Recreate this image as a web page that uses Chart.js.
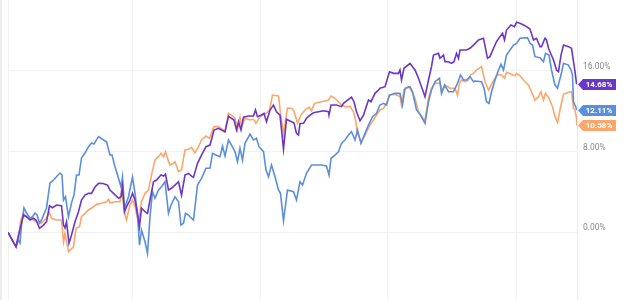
<!DOCTYPE html>
<html>
<head>
<meta charset="utf-8">
<script src="https://cdn.jsdelivr.net/npm/chart.js@4.4.1/dist/chart.umd.min.js"></script>
<style>
    html, body { margin: 0; padding: 0; background: #fff; }
    #wrap {
        width: 640px; height: 300px; position: relative;
        background: linear-gradient(to right, #ececec 0, #ececec 2px, #fff 2px);
    }
</style>
</head>
<body>
<div id="wrap"><canvas id="chart"></canvas></div>
<script>
// Trading-day index (0 = start) and total return in %
const purpleDays = [0, 16, 21, 31, 37, 44, 51, 56, 63, 71, 77, 83, 89, 97, 107, 111, 114, 117, 122, 127, 134, 141, 147, 154, 161, 167, 174, 181, 190, 199, 204, 211, 221, 226, 229, 233, 237, 244, 249, 254, 259, 263, 267, 274, 279, 284, 291, 297, 306, 311, 315, 321, 327, 334, 341, 347, 354, 361, 367, 371, 379, 387, 396, 404, 412, 421, 427, 434, 441, 447, 452, 457, 461, 466, 471, 481, 491, 495, 499, 507, 512, 517, 524, 531, 537, 544, 551, 557, 567, 572, 577, 581, 584, 591, 597, 604, 611, 621, 631, 641, 642, 646, 657, 667, 671, 681, 687, 692, 697, 704, 711, 717, 721, 726, 734, 741, 744, 754, 763, 771, 781, 784, 787, 792, 804, 809, 814, 821, 827, 834, 841, 847, 851, 861, 864, 871, 874, 881, 887, 892, 897, 901, 904, 917, 924, 931, 941, 951, 959, 964, 971, 977, 984, 989, 993, 997, 1006, 1013, 1017, 1024, 1034, 1044, 1051, 1057, 1064, 1067, 1074, 1077, 1081, 1091, 1097, 1101, 1106, 1111, 1121, 1127, 1134, 1137, 1138];
const purpleValues = [0, -1.43, -0.27, 1.71, 1.54, 1.22, 1.39, 1.22, 0.4, 0.72, 1.05, 2.63, 2.44, 2.7, 2.63, 0.72, 0.43, 1.05, -1.09, -0.27, 1.05, 2.04, 3.2, 3.69, 3.86, 3.86, 4.48, 4.85, 4.83, 4.68, 4.19, 3.86, 3.37, 3.52, 4.51, 2.04, 2.53, 3.2, 3.86, 3.2, 1.88, 0.55, 2.38, 2.04, 1.88, 3.2, 5.01, 5.18, 5.67, 5.57, 5.77, 4.19, 4.36, 4.68, 5.01, 3.69, 5.67, 5.84, 5.57, 5.45, 6.83, 7.65, 8.48, 8.64, 10.13, 10.3, 10.13, 9.96, 11.51, 11.29, 11.12, 10.13, 10.95, 10.13, 11.39, 11.51, 11.51, 12.11, 11.45, 11.61, 11.78, 10.95, 12.11, 12.6, 11.94, 11.61, 8.22, 11.19, 10.95, 10.82, 9.8, 9.63, 10.77, 10.79, 11.29, 11.61, 11.84, 11.94, 12.04, 11.94, 11.61, 12.6, 12.6, 12.44, 12.77, 13.17, 13.37, 12.93, 11.94, 11.05, 11.61, 12.5, 13.1, 12.93, 13.76, 14.09, 14.26, 14.42, 15.9, 15.74, 15.74, 16.07, 15.08, 16.24, 16.73, 16.4, 16.07, 15.25, 14.42, 13.43, 15.08, 16.4, 17.55, 17.72, 17.23, 17.55, 16.89, 16.89, 16.73, 16.89, 17.72, 17.23, 18.05, 18.05, 18.22, 18.54, 19.04, 19.21, 17.23, 17.39, 18.22, 18.87, 19.37, 19.7, 19.04, 20.03, 20.52, 20.36, 20.79, 20.69, 20.46, 20.13, 19.04, 19.21, 18.38, 18.38, 19.21, 19.04, 18.22, 17.06, 16.07, 15.9, 17.55, 18.54, 18.38, 18.22, 15.9, 14.75, 14.68];

const blueDays = [0, 16, 20, 24, 27, 32, 37, 44, 49, 54, 58, 63, 67, 77, 84, 91, 97, 104, 108, 111, 115, 121, 127, 132, 137, 142, 147, 154, 161, 167, 172, 181, 188, 197, 204, 208, 214, 221, 226, 229, 233, 241, 249, 254, 259, 263, 267, 274, 279, 284, 289, 294, 301, 307, 314, 321, 326, 334, 341, 346, 351, 355, 361, 364, 371, 379, 387, 396, 404, 409, 416, 424, 429, 434, 441, 447, 454, 459, 464, 469, 474, 484, 491, 497, 502, 511, 516, 521, 527, 534, 541, 545, 551, 559, 571, 577, 584, 589, 597, 607, 627, 637, 642, 646, 654, 661, 667, 674, 681, 687, 694, 699, 706, 714, 721, 729, 737, 744, 751, 757, 763, 774, 784, 789, 794, 804, 809, 817, 825, 834, 841, 847, 854, 863, 867, 873, 881, 891, 899, 905, 911, 917, 924, 931, 934, 947, 952, 957, 962, 967, 974, 981, 986, 991, 997, 1004, 1011, 1017, 1024, 1039, 1044, 1049, 1054, 1064, 1071, 1075, 1082, 1087, 1094, 1099, 1106, 1111, 1121, 1126, 1129, 1131, 1138];
const blueValues = [0, -1.43, -0.76, -1.06, 0.72, 2.41, 1.91, 1.42, 1.54, 1.91, 1.72, 0.92, 1.22, 2.41, 4.88, 5.18, 5.5, 5.87, 5.67, 3.19, 3.52, 1.54, 2.9, 3.69, 5.67, 5.67, 7.36, 7.85, 8.48, 8.84, 8.74, 9.47, 9.24, 8.97, 7.65, 7.65, 6.5, 5.35, 4.51, 5.5, 2.38, 3.52, 5.45, 3.89, 1.71, -1.26, 0.23, -0.93, -2.08, 1.54, 4.02, 3.37, 4.19, 4.51, 5.01, 1.88, 2.7, 3.52, 3.03, 0.72, 0.89, 1.88, 1.71, 1.54, 1.22, 4.68, 5.35, 6.34, 6.34, 7.82, 7.65, 7.49, 8.54, 7.55, 9.14, 8.64, 7.98, 6.99, 8.32, 7.16, 8.81, 9.73, 9.14, 9.31, 8.48, 7.98, 6.17, 5.5, 6.66, 5.5, 4.19, 3.86, 1.15, 4.19, 4.02, 3.2, 5.01, 4.68, 5.84, 6.66, 6.66, 6.56, 5.67, 7.33, 7.65, 7.98, 8.81, 9.14, 9.63, 9.96, 9.14, 10.13, 8.81, 9.8, 10.62, 11.45, 11.78, 12.6, 12.77, 12.6, 13.59, 13.76, 13.76, 12.6, 14.26, 14.42, 13.92, 12.11, 11.61, 10.79, 12.93, 14.09, 14.91, 15.25, 13.76, 14.58, 13.92, 13.92, 14.75, 15.57, 15.08, 15.08, 15.41, 14.91, 14.98, 14.91, 14.28, 12.93, 12.77, 13.92, 15.08, 16.07, 16.63, 16.07, 17.55, 18.05, 18.54, 18.71, 19.21, 19.27, 18.71, 18.54, 17.39, 17.29, 16.89, 17.72, 17.55, 16.07, 14.58, 14.26, 15.57, 16.73, 16.56, 16.07, 15.57, 12.93, 12.11];

const orangeDays = [0, 16, 21, 25, 31, 37, 44, 51, 57, 67, 77, 83, 87, 97, 107, 111, 114, 121, 131, 136, 143, 147, 154, 161, 171, 177, 187, 197, 201, 204, 214, 224, 227, 234, 237, 244, 249, 254, 259, 262, 267, 274, 281, 287, 294, 301, 306, 311, 315, 319, 324, 331, 334, 341, 347, 354, 361, 367, 374, 381, 387, 396, 403, 412, 421, 429, 434, 441, 447, 454, 459, 464, 467, 474, 484, 491, 496, 504, 516, 523, 529, 541, 545, 551, 559, 567, 571, 579, 586, 594, 602, 607, 613, 627, 641, 646, 654, 661, 667, 674, 684, 691, 695, 699, 706, 713, 719, 724, 731, 737, 744, 751, 757, 763, 774, 784, 787, 792, 801, 807, 814, 821, 827, 834, 841, 847, 854, 864, 869, 874, 884, 894, 899, 903, 907, 914, 921, 925, 931, 937, 944, 947, 954, 961, 966, 974, 979, 987, 993, 997, 1007, 1014, 1017, 1024, 1034, 1041, 1047, 1054, 1061, 1066, 1071, 1075, 1082, 1089, 1094, 1099, 1106, 1111, 1121, 1127, 1131, 1134, 1137, 1138];
const orangeValues = [0, -1.43, -0.76, 1.05, 1.88, 1.54, 1.39, 1.22, 1.05, 0.89, 1.39, 1.98, 1.39, 1.22, 1.22, -0.93, -0.1, -1.92, -1.43, 0.4, 0.55, 1.54, 1.88, 2.21, 2.53, 2.77, 2.87, 3.03, 3.27, 2.93, 3.03, 3.03, 4.19, 1.71, 1.22, 2.7, 3.2, 2.53, 1.39, 1.22, 3.03, 3.86, 4.19, 5.67, 7.16, 7.49, 7.82, 7.49, 7.98, 7.32, 6.66, 6.83, 6.99, 6.0, 6.16, 8.15, 8.22, 8.42, 7.88, 8.48, 9.14, 9.53, 9.31, 10.46, 10.46, 10.2, 9.96, 11.78, 11.61, 11.29, 10.13, 11.39, 10.46, 11.29, 11.12, 11.19, 10.79, 11.45, 11.78, 12.11, 13.59, 13.5, 11.78, 9.73, 12.31, 12.28, 12.11, 10.82, 11.61, 12.11, 12.4, 12.04, 12.77, 12.93, 13.1, 13.5, 13.27, 12.93, 12.6, 12.44, 12.44, 11.94, 11.12, 9.8, 8.97, 9.47, 10.13, 10.62, 11.12, 11.61, 12.11, 12.28, 12.77, 13.59, 13.66, 13.43, 12.6, 14.09, 14.42, 13.99, 13.27, 11.94, 11.45, 11.12, 13.27, 14.26, 14.75, 14.75, 13.92, 14.58, 14.26, 14.26, 13.59, 14.75, 15.08, 14.91, 15.08, 15.57, 15.74, 16.07, 16.3, 16.4, 14.91, 14.09, 14.58, 15.25, 15.64, 15.57, 15.25, 15.84, 15.64, 15.5, 15.74, 15.5, 14.91, 14.58, 13.92, 13.1, 13.43, 13.92, 13.1, 13.76, 13.27, 12.44, 11.45, 10.89, 12.6, 13.66, 13.86, 13.92, 12.28, 12.11, 11.29, 10.58];

// vertical grid lines (start of each year)
const yearStartDays = [0, 249, 504, 759, 1017];
const yTickValues = [0, 8, 16];

const purple = '#6a38c8';
const blue = '#5b8fdb';
const orange = '#fca66b';
const gridColor = '#f1f1f1';

function toPoints(days, values) {
    return days.map((d, i) => ({ x: d, y: values[i] }));
}

// Last-value badges on the right axis
const badgePlugin = {
    id: 'badges',
    afterDatasetsDraw(chart) {
        const ctx = chart.ctx;
        const right = chart.chartArea.right;
        ctx.save();
        chart.data.datasets.forEach((ds, i) => {
            const meta = chart.getDatasetMeta(i);
            const last = meta.data[meta.data.length - 1];
            const val = ds.data[ds.data.length - 1].y;
            const y = Math.round(last.y) + 0.5;
            const h = 11;
            ctx.fillStyle = ds.borderColor;
            ctx.beginPath();
            ctx.moveTo(right + 1, y);
            ctx.lineTo(right + 6, y - h / 2);
            ctx.lineTo(right + 39, y - h / 2);
            ctx.lineTo(right + 39, y + h / 2);
            ctx.lineTo(right + 6, y + h / 2);
            ctx.closePath();
            ctx.fill();
            ctx.fillStyle = '#fff';
            ctx.font = 'bold 8px Roboto';
            ctx.textAlign = 'center';
            ctx.textBaseline = 'middle';
            ctx.fillText(val.toFixed(2) + '%', right + 22, y + 0.5);
        });
        ctx.restore();
    }
};

const chart = new Chart(document.getElementById('chart'), {
    type: 'line',
    data: {
        datasets: [
            { label: 'Fund A', data: toPoints(purpleDays, purpleValues), borderColor: purple },
            { label: 'Fund B', data: toPoints(blueDays, blueValues), borderColor: blue },
            { label: 'Fund C', data: toPoints(orangeDays, orangeValues), borderColor: orange },
        ],
    },
    options: {
        responsive: true,
        maintainAspectRatio: false,
        animation: false,
        layout: { padding: { left: 8, top: 0, right: 0, bottom: 0 } },
        elements: {
            line: { borderWidth: 1.6, tension: 0 },
            point: { radius: 0 },
        },
        plugins: {
            legend: { display: false },
            tooltip: { enabled: false },
        },
        scales: {
            x: {
                type: 'linear',
                min: 0,
                max: 1138,
                afterBuildTicks: (scale) => {
                    scale.ticks = yearStartDays.map((v) => ({ value: v }));
                },
                ticks: { display: false },
                grid: { color: gridColor, drawTicks: false },
                border: { display: false },
            },
            y: {
                position: 'right',
                min: -6.7,
                max: 23.0,
                afterBuildTicks: (scale) => {
                    scale.ticks = yTickValues.map((v) => ({ value: v }));
                },
                afterFit: (scale) => {
                    scale.width = 63;
                    scale.paddingTop = 0;
                    scale.paddingBottom = 0;
                },
                ticks: {
                    padding: 6,
                    labelOffset: -4,
                    color: '#8c8c8c',
                    font: { family: 'Roboto', size: 8.5 },
                    callback: (v) => v.toFixed(2) + '%',
                },
                grid: { color: gridColor, drawTicks: false },
                border: { display: true, color: '#ececec' },
            },
        },
    },
    plugins: [badgePlugin],
});
</script>
</body>
</html>
